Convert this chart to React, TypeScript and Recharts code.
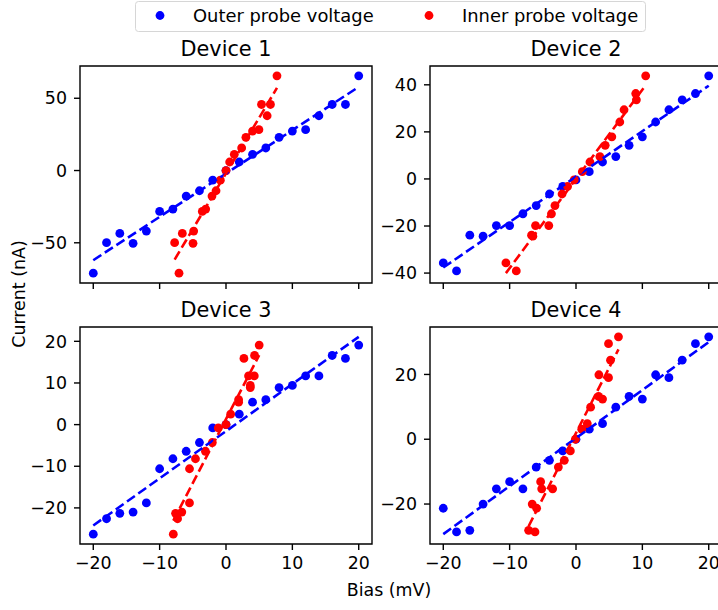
import React from "react";
import { ScatterChart, Scatter, XAxis, YAxis, ReferenceArea } from "recharts";

// outer probe bias sweep (mV)
const outerBias = [-20, -18, -16, -14, -12, -10, -8, -6, -4, -2, 0, 2, 4, 6, 8, 10, 12, 14, 16, 18, 20];

// measured current (nA), same order as outerBias; inner = inner probe voltage (mV)
const current1 = [-71.0, -49.9, -43.5, -50.4, -41.9, -28.3, -26.7, -17.7, -14.0, -6.7, 0, 5.9, 11.2, 15.6, 23.0, 27.3, 28.3, 37.9, 45.7, 45.7, 65.5];
const inner1 = [-7.08, -7.74, -6.58, -4.97, -4.87, -3.57, -3.06, -2.11, -1.5, -0.85, 0, 0.55, 1.25, 2.36, 3.0, 4.0, 4.96, 6.2, 5.35, 6.7, 7.68];

const current2 = [-35.7, -39.1, -23.9, -24.3, -19.8, -19.8, -14.8, -11.3, -6.4, -3.2, -0.4, 3.1, 7.2, 9.5, 14.3, 17.9, 24.2, 29.4, 33.6, 36.3, 43.8];
const inner2 = [-10.56, -9.0, -6.7, -6.5, -6.1, -4.1, -3.7, -3.17, -2.1, -1.27, -0.28, 0.95, 2.1, 3.6, 4.4, 5.4, 6.6, 7.24, 9.1, 9.0, 10.5];

const current3 = [-26.3, -22.6, -21.3, -21.0, -18.8, -10.6, -8.2, -6.4, -4.3, -0.8, 0, 2.5, 5.4, 6.0, 8.9, 9.4, 11.7, 11.7, 16.6, 15.9, 19.1];
const inner3 = [-7.94, -7.3, -7.6, -6.66, -5.5, -5.5, -4.6, -3.1, -2.06, -1.16, 0, 0.7, 1.9, 1.9, 3.66, 3.66, 3.4, 4.26, 4.3, 2.7, 5.0];

const current4 = [-21.3, -28.6, -28.1, -20.0, -15.3, -13.1, -15.3, -8.6, -6.5, -3.6, 0, 3.1, 4.8, 9.9, 13.2, 12.4, 19.9, 19.0, 24.4, 29.5, 31.6];
const inner4 = [-5.93, -6.18, -7.14, -6.6, -5.17, -5.33, -3.52, -2.66, -1.76, -0.85, -0.1, 0.86, 1.7, 2.2, 3.4, 4.0, 3.45, 4.9, 5.2, 4.9, 6.4];

const deviceTitles = ["Device 1", "Device 2", "Device 3", "Device 4"];
const legendLabels = ["Outer probe voltage", "Inner probe voltage"];
const xTicks = [-20, -10, 0, 10, 20];
const yTicks1 = [-50, 0, 50];
const yTicks2 = [-40, -20, 0, 20, 40];
const yTicks3 = [-20, -10, 0, 10, 20];
const yTicks4 = [-20, 0, 20];

const FONT = '"DejaVu Sans", sans-serif';
const BLUE = "#0000ff";
const RED = "#ff0000";
const DASH = "9.6 4.2";
const FS = 17.4;

const PLOT_W = 292;
const PLOT_H = 217;
const AXIS_W = 80;
const AXIS_H = 40;
const PAD = 10;

// least squares fit, drawn across the x range of the points
function fitLine(xs: number[], ys: number[]) {
  const n = xs.length;
  const mx = xs.reduce((a, b) => a + b, 0) / n;
  const my = ys.reduce((a, b) => a + b, 0) / n;
  let sxy = 0;
  let sxx = 0;
  xs.forEach((x, i) => {
    sxy += (x - mx) * (ys[i] - my);
    sxx += (x - mx) * (x - mx);
  });
  const k = sxy / sxx;
  const lo = Math.min(...xs);
  const hi = Math.max(...xs);
  return [
    { x: lo, y: my + k * (lo - mx) },
    { x: hi, y: my + k * (hi - mx) },
  ];
}

// 5% margins like matplotlib autoscale
function padded(vals: number[]): [number, number] {
  const lo = Math.min(...vals);
  const hi = Math.max(...vals);
  const m = (hi - lo) * 0.05;
  return [lo - m, hi + m];
}

const fmt = (v: number) => (v < 0 ? `\u2212${Math.abs(v)}` : `${v}`);

const dot = (color: string) => (p: any) => (
  <circle cx={p.cx} cy={p.cy} r={4.4} fill={color} />
);
const noDot = () => <g />;

interface PanelProps {
  left: number;
  top: number;
  current: number[];
  inner: number[];
  yTicks: number[];
  showXLabels: boolean;
}

const Panel = ({ left, top, current, inner, yTicks, showXLabels }: PanelProps) => {
  const outerPts = outerBias.map((x, i) => ({ x, y: current[i] }));
  const innerPts = inner.map((x, i) => ({ x, y: current[i] }));
  const outerFit = fitLine(outerBias, current);
  const innerFit = fitLine(inner, current);
  const xDomain = padded(outerBias);
  const yDomain = padded([
    ...current,
    ...outerFit.map((p) => p.y),
    ...innerFit.map((p) => p.y),
  ]);
  const tickStyle = { fontSize: FS, fill: "#000", fontFamily: FONT };
  const tickLine = { stroke: "#000", strokeWidth: 1.4 };

  return (
    <div style={{ position: "absolute", left: left - AXIS_W, top: top - PAD }}>
      <ScatterChart
        width={AXIS_W + PLOT_W + PAD}
        height={PAD + PLOT_H + AXIS_H}
        margin={{ top: PAD, right: PAD, bottom: 0, left: 0 }}
      >
        <XAxis
          type="number"
          dataKey="x"
          domain={xDomain}
          allowDataOverflow
          ticks={xTicks}
          interval={0}
          height={AXIS_H}
          axisLine={false}
          tickSize={6}
          tickMargin={7}
          tickLine={tickLine}
          tick={tickStyle}
          tickFormatter={showXLabels ? fmt : () => ""}
        />
        <YAxis
          type="number"
          dataKey="y"
          domain={yDomain}
          allowDataOverflow
          ticks={yTicks}
          interval={0}
          width={AXIS_W}
          axisLine={false}
          tickSize={6}
          tickMargin={7}
          tickLine={tickLine}
          tick={tickStyle}
          tickFormatter={fmt}
        />
        <Scatter data={outerPts} shape={dot(BLUE)} isAnimationActive={false} />
        <Scatter data={innerPts} shape={dot(RED)} isAnimationActive={false} />
        <Scatter
          data={outerFit}
          shape={noDot}
          line={{ stroke: BLUE, strokeWidth: 2.6, strokeDasharray: DASH }}
          isAnimationActive={false}
        />
        <Scatter
          data={innerFit}
          shape={noDot}
          line={{ stroke: RED, strokeWidth: 2.6, strokeDasharray: DASH }}
          isAnimationActive={false}
        />
        <ReferenceArea
          x1={xDomain[0]}
          x2={xDomain[1]}
          y1={yDomain[0]}
          y2={yDomain[1]}
          fill="none"
          stroke="#000"
          strokeWidth={1.4}
          ifOverflow="visible"
        />
      </ScatterChart>
    </div>
  );
};

const panels = [
  { left: 80, top: 66, current: current1, inner: inner1, yTicks: yTicks1, showXLabels: false },
  { left: 430, top: 66, current: current2, inner: inner2, yTicks: yTicks2, showXLabels: false },
  { left: 80, top: 327, current: current3, inner: inner3, yTicks: yTicks3, showXLabels: true },
  { left: 430, top: 327, current: current4, inner: inner4, yTicks: yTicks4, showXLabels: true },
];

export default function App() {
  return (
    <div
      style={{
        position: "fixed",
        left: 0,
        top: 0,
        width: 718,
        height: 610,
        overflow: "hidden",
        background: "#fff",
        fontFamily: FONT,
      }}
    >
      {panels.map((p, i) => (
        <Panel key={i} {...p} />
      ))}
      <svg
        width={718}
        height={610}
        style={{ position: "absolute", left: 0, top: 0, pointerEvents: "none" }}
        fontFamily={FONT}
      >
        {panels.map((p, i) => (
          <text
            key={i}
            x={p.left + PLOT_W / 2}
            y={p.top - 10.4}
            textAnchor="middle"
            fontSize={20.8}
            fill="#000"
          >
            {deviceTitles[i]}
          </text>
        ))}
        <text x={389} y={596} textAnchor="middle" fontSize={FS} fill="#000">
          Bias (mV)
        </text>
        <text
          transform="translate(25,294) rotate(-90)"
          textAnchor="middle"
          fontSize={FS}
          fill="#000"
        >
          Current (nA)
        </text>
        <rect x={135.5} y={1.5} width={510} height={30} rx={3} fill="#fff" stroke="#d6d6d6" strokeWidth={1} />
        <circle cx={160} cy={15.5} r={4.4} fill={BLUE} />
        <text x={193} y={21.8} fontSize={17.9} fill="#000">
          {legendLabels[0]}
        </text>
        <circle cx={429} cy={15.5} r={4.4} fill={RED} />
        <text x={462} y={21.8} fontSize={17.9} fill="#000">
          {legendLabels[1]}
        </text>
      </svg>
    </div>
  );
}
